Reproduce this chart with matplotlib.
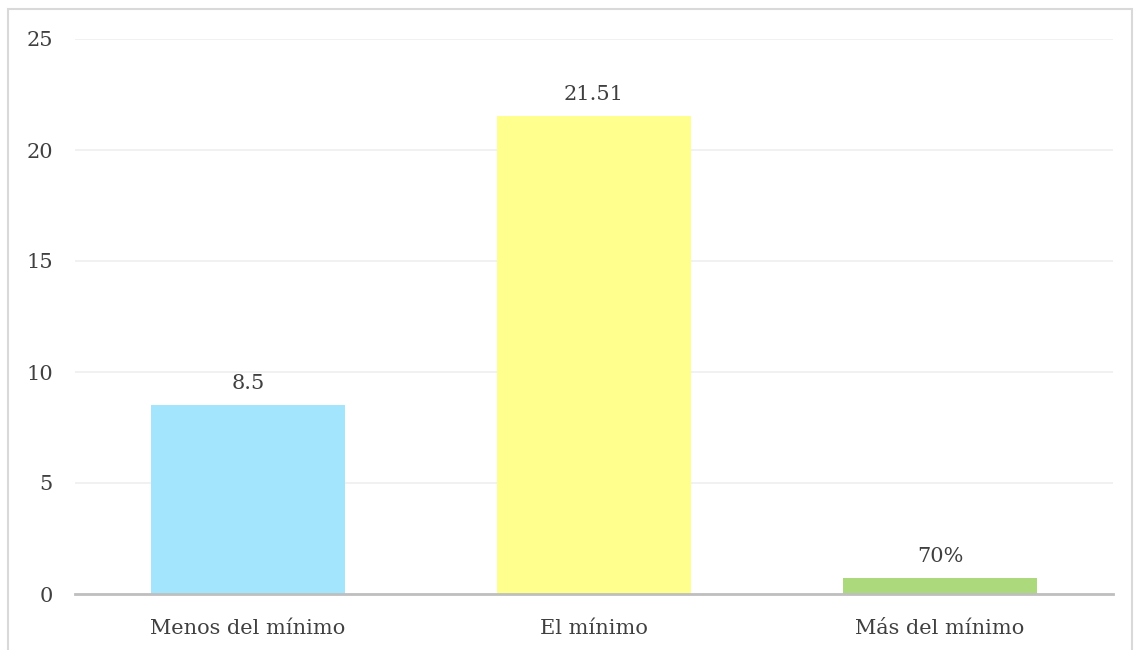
import matplotlib
matplotlib.use("Agg")
import matplotlib.pyplot as plt
from matplotlib.patches import Rectangle

categories = ["Menos del mínimo", "El mínimo", "Más del mínimo"]
values = [8.5, 21.51, 0.70]
value_labels = ["8.5", "21.51", "70%"]
bar_colors = ["#A3E5FC", "#FFFF8E", "#ABD97B"]
y_ticks = [0, 5, 10, 15, 20, 25]

text_color = "#404040"
plt.rcParams["font.family"] = ["DejaVu Serif"]

fig = plt.figure(figsize=(11.39, 6.5), dpi=100)
ax = fig.add_axes([75 / 1139, 1 - 594 / 650, 1038 / 1139, 555 / 650])

# outer chart frame
fig.patches.append(Rectangle((8 / 1139, -0.01), 1124 / 1139, 1 - 9 / 650 + 0.01,
                             transform=fig.transFigure, fill=False,
                             edgecolor="#D9D9D9", linewidth=1.5))

x = range(len(categories))
bars = ax.bar(x, values, width=0.558, color=bar_colors, zorder=2)

for b, lab in zip(bars, value_labels):
    ax.annotate(lab, (b.get_x() + b.get_width() / 2, b.get_height()),
                xytext=(0, 9), textcoords="offset points",
                ha="center", va="bottom", fontsize=15, color=text_color)

ax.set_xlim(-0.5, 2.5)
ax.set_ylim(0, 25)
ax.set_yticks(y_ticks)
ax.set_xticks(list(x))
ax.set_xticklabels(categories)
ax.yaxis.grid(True, color="#EFEFEF", linewidth=1.2, zorder=0)
ax.set_axisbelow(True)

for s in ["top", "right", "left"]:
    ax.spines[s].set_visible(False)
ax.spines["bottom"].set_color("#BFBFBF")
ax.spines["bottom"].set_linewidth(2)
ax.spines["bottom"].set_zorder(3)

ax.tick_params(axis="both", length=0, labelsize=15, labelcolor=text_color)
ax.tick_params(axis="y", pad=16)
ax.tick_params(axis="x", pad=18)

fig.savefig("out.png", dpi=100)
